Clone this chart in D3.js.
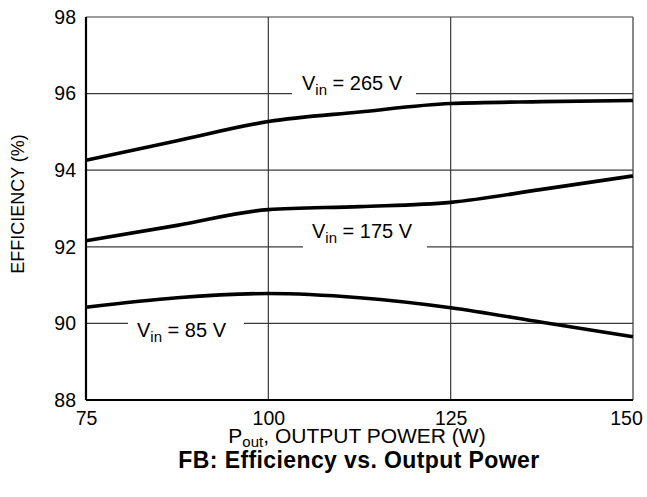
<!DOCTYPE html>
<html>
<head>
<meta charset="utf-8">
<script src="https://cdn.jsdelivr.net/npm/d3@7"></script>
<style>
  body { margin: 0; background: #fff; }
  text { font-family: "Liberation Sans", Arial, sans-serif; fill: #000; }
</style>
</head>
<body>
<div id="chart"></div>
<script>
// output power (W)
var power = [75, 87.5, 100, 112.5, 125, 137.5, 150];
// efficiency (%) for each input voltage
var eff265 = [94.26, 94.77, 95.27, 95.52, 95.74, 95.79, 95.82];
var eff175 = [92.16, 92.56, 92.97, 93.05, 93.16, 93.5, 93.85];
var eff85 = [90.42, 90.67, 90.78, 90.67, 90.41, 90.03, 89.65];
var xTicks = [75, 100, 125, 150];
var yTicks = [88, 90, 92, 94, 96, 98];

var svgWidth = 647, svgHeight = 497;
var margin = { top: 17, right: 14, bottom: 97, left: 86 };
var width = svgWidth - margin.left - margin.right;
var height = svgHeight - margin.top - margin.bottom;

var svg = d3.select("#chart").append("svg")
  .attr("width", svgWidth)
  .attr("height", svgHeight);

var chartGroup = svg.append("g")
  .attr("transform", `translate(${margin.left}, ${margin.top})`);

var x = d3.scaleLinear().domain([75, 150]).range([0, width]);
var y = d3.scaleLinear().domain([88, 98]).range([height, 0]);

// gridlines, with gaps where the curve labels sit
var gaps = {
  96: [x.invert(292 - margin.left), x.invert(416 - margin.left)],
  92: [x.invert(303 - margin.left), x.invert(427 - margin.left)],
  90: [x.invert(128 - margin.left), x.invert(244 - margin.left)]
};
yTicks.forEach(function(t) {
  var segs = gaps[t] ? [[75, gaps[t][0]], [gaps[t][1], 150]] : [[75, 150]];
  segs.forEach(function(s) {
    chartGroup.append("line")
      .attr("x1", x(s[0])).attr("x2", x(s[1]))
      .attr("y1", y(t)).attr("y2", y(t))
      .attr("stroke", "#3a3a3a").attr("stroke-width", 1.2);
  });
});
xTicks.forEach(function(t) {
  chartGroup.append("line")
    .attr("x1", x(t)).attr("x2", x(t))
    .attr("y1", 0).attr("y2", height)
    .attr("stroke", "#3a3a3a").attr("stroke-width", 1.2);
});

// left and bottom frame lines are heavier
chartGroup.append("line").attr("x1", 0).attr("x2", 0).attr("y1", 0).attr("y2", height)
  .attr("stroke", "#000").attr("stroke-width", 2.2);
chartGroup.append("line").attr("x1", 0).attr("x2", width).attr("y1", height).attr("y2", height)
  .attr("stroke", "#000").attr("stroke-width", 2.2);

// axes (labels only)
var bottomAxis = d3.axisBottom(x).tickValues(xTicks).tickSize(0);
var leftAxis = d3.axisLeft(y).tickValues(yTicks).tickSize(0).tickPadding(10);

var xAxis = chartGroup.append("g")
  .attr("transform", `translate(0, ${height})`)
  .call(bottomAxis);
var yAxis = chartGroup.append("g").call(leftAxis);
[xAxis, yAxis].forEach(function(a) {
  a.select(".domain").remove();
  a.attr("font-size", null).attr("font-family", null);
  a.selectAll("text").style("font-size", "19.5px").attr("fill", "#000");
});
xAxis.selectAll("text").attr("y", 25).attr("dy", 0);
// keep the last label inside the page
xAxis.selectAll("text").filter(function(d) { return d === 150; }).attr("dx", -7);

// curves
var line = d3.line()
  .x(function(d) { return x(d[0]); })
  .y(function(d) { return y(d[1]); })
  .curve(d3.curveMonotoneX);

[eff265, eff175, eff85].forEach(function(series) {
  chartGroup.append("path")
    .datum(power.map(function(p, i) { return [p, series[i]]; }))
    .attr("d", line)
    .attr("fill", "none")
    .attr("stroke", "#000")
    .attr("stroke-width", 3.6);
});

// curve labels
var curveLabels = [
  { v: "265", x: 302, y: 90 },
  { v: "175", x: 312, y: 238 },
  { v: "85", x: 137, y: 337 }
];
curveLabels.forEach(function(l) {
  var t = svg.append("text")
    .attr("x", l.x).attr("y", l.y)
    .style("font-size", "20px");
  t.append("tspan").text("V");
  t.append("tspan").attr("dy", 5).style("font-size", "15px").text("in");
  t.append("tspan").attr("dy", -5).text(" = " + l.v + " V");
});

// x axis title
var xt = svg.append("text")
  .attr("x", 357)
  .attr("y", 443)
  .attr("text-anchor", "middle")
  .style("font-size", "21px");
xt.append("tspan").text("P");
xt.append("tspan").attr("dy", 4).style("font-size", "15px").text("out");
xt.append("tspan").attr("dy", -4).text(", OUTPUT POWER (W)");

// y axis title
svg.append("text")
  .attr("transform", "rotate(-90)")
  .attr("x", -204)
  .attr("y", 24)
  .attr("text-anchor", "middle")
  .style("font-size", "18px")
  .text("EFFICIENCY (%)");

// caption
svg.append("text")
  .attr("x", 359)
  .attr("y", 468)
  .attr("text-anchor", "middle")
  .style("font-size", "23px")
  .style("letter-spacing", "0.4px")
  .style("font-weight", "bold")
  .text("FB: Efficiency vs. Output Power");
</script>
</body>
</html>
